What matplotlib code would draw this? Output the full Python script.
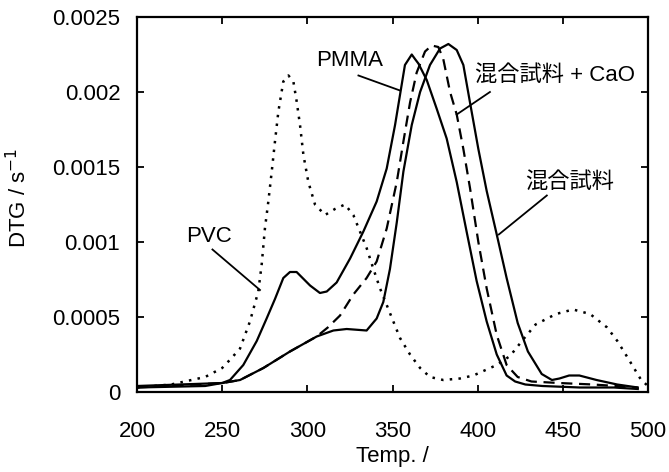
import numpy as np
import matplotlib.pyplot as plt

plt.rcParams['font.family'] = ['Liberation Sans', 'Noto Sans CJK JP', 'DejaVu Sans']

# DTG curves
pvc_t = [200, 220, 240, 250, 255, 260.5, 266.3, 271.2, 273.2, 275.1, 277.1, 279.1, 281, 283,
         285.9, 288.9, 291.8, 293.7, 295.7, 297.7, 300.6, 304.5, 310.4, 316.2, 322.1, 327,
         330.9, 334.8, 338.8, 342.7, 346.6, 350.5, 354.4, 360.3, 366.2, 372, 379.8, 389.6,
         397.5, 411.2, 419, 426, 434, 446, 456, 466, 476, 482, 488, 496, 500]
pvc_dtg = [0.00003, 0.00005, 0.0001, 0.00016, 0.00022, 0.00029, 0.00047, 0.00067, 0.00085,
           0.00109, 0.00127, 0.00147, 0.00167, 0.00187, 0.00207, 0.00211, 0.00207, 0.00194,
           0.00178, 0.00158, 0.0014, 0.00125, 0.00118, 0.00122, 0.00125, 0.00118, 0.00107,
           0.00096, 0.00082, 0.00069, 0.00058, 0.00047, 0.00036, 0.00025, 0.00016, 0.0001,
           0.00008, 0.00009, 0.00011, 0.00018, 0.00024, 0.00034, 0.00045, 0.00052, 0.00055,
           0.00052, 0.00043, 0.00034, 0.00023, 0.00008, 0.00004]

pmma_t = [200, 240, 250, 254.6, 262.4, 270.3, 276.1, 281, 285.9, 289.8, 293.7, 301.6, 307.4,
          311.4, 317.2, 325.1, 332.9, 340.7, 346.6, 351.5, 354.4, 357.3, 361.3, 363.2, 365.2,
          370.1, 375.9, 381.8, 387.7, 393.5, 399.4, 405.3, 411.2, 417, 422, 428, 438, 460,
          480, 494]
pmma_dtg = [0.00003, 0.00004, 0.00006, 0.00008, 0.00018, 0.00034, 0.00049, 0.00062, 0.00076,
            0.0008, 0.0008, 0.00071, 0.00066, 0.00067, 0.00073, 0.00089, 0.00107, 0.00127,
            0.00149, 0.00178, 0.00198, 0.00218, 0.00225, 0.00222, 0.00219, 0.00208, 0.00189,
            0.00169, 0.0014, 0.00107, 0.00074, 0.00047, 0.00025, 0.00011, 0.00007, 0.00005,
            0.00004, 0.00003, 0.00003, 0.00002]

mix_t = [200, 250.3, 260.5, 274.2, 289.8, 305.5, 315.3, 323.1, 334.8, 340.7, 344.6, 348.5,
         352.5, 356.4, 361.3, 366.2, 372, 377.9, 382.8, 387.7, 391.6, 395.5, 400.4, 405.3,
         411.2, 417, 423.5, 429.5, 437.6, 443.6, 448, 453.7, 459.7, 469.8, 481.9, 494]
mix_dtg = [0.00004, 0.00006, 0.00008, 0.00016, 0.00027, 0.00037, 0.00041, 0.00042, 0.00041,
           0.00049, 0.0006, 0.00082, 0.00113, 0.00147, 0.00178, 0.002, 0.00218, 0.00229,
           0.00232, 0.00228, 0.00218, 0.00193, 0.00162, 0.00134, 0.00105, 0.00076, 0.00046,
           0.00027, 0.00012, 0.00008, 0.00009, 0.00011, 0.00011, 0.00008, 0.00005, 0.00003]

cao_t = [200, 250.3, 260.5, 274.2, 289.8, 305.5, 312, 319.2, 327, 334.8, 340.7, 346.6, 352.5,
         356.4, 360.3, 364.2, 369.1, 373, 376.9, 379.8, 383.8, 387.7, 391.6, 395.5, 400.4,
         405.3, 411.2, 417, 423.5, 431.6, 447.6, 467.8, 494]
cao_dtg = [0.00003, 0.00006, 0.00008, 0.00016, 0.00027, 0.00037, 0.00043, 0.00051, 0.00065,
           0.00076, 0.00087, 0.00109, 0.0014, 0.00167, 0.00193, 0.00213, 0.00227, 0.00231,
           0.0023, 0.00222, 0.002, 0.00185, 0.00162, 0.00136, 0.001, 0.00069, 0.00038,
           0.00018, 0.0001, 0.00007, 0.00006, 0.00005, 0.00003]

fig = plt.figure(figsize=(6.69, 4.72), dpi=100)
ax = fig.add_axes([137 / 669, 1 - 392 / 472, 511 / 669, 375 / 472])

ax.plot(pvc_t, pvc_dtg, color='black', lw=1.8, ls=(0, (1, 2.5)))
ax.plot(pmma_t, pmma_dtg, color='black', lw=1.6)
ax.plot(mix_t, mix_dtg, color='black', lw=1.6)
ax.plot(cao_t, cao_dtg, color='black', lw=1.6, ls=(0, (5, 3)))

fs = 16
ax.text(325.1, 0.00221, 'PMMA', fontsize=fs, ha='center', va='center')
ax.plot([330, 354.4], [0.00211, 0.00201], color='black', lw=1.3)
ax.text(445.6, 0.00211, '混合試料 + CaO', fontsize=fs, ha='center', va='center')
ax.plot([407.2, 387.7], [0.002, 0.00185], color='black', lw=1.3)
ax.text(453.7, 0.0014, '混合試料', fontsize=fs, ha='center', va='center')
ax.plot([440.6, 412.4], [0.00131, 0.00105], color='black', lw=1.3)
ax.text(242.3, 0.00104, 'PVC', fontsize=fs, ha='center', va='center')
ax.plot([244.3, 272.2], [0.00095, 0.00068], color='black', lw=1.3)

ax.set_xlim(200, 500)
ax.set_ylim(0, 0.0025)
ax.set_xticks([200, 250, 300, 350, 400, 450, 500])
ax.set_yticks([0, 0.0005, 0.001, 0.0015, 0.002, 0.0025])
ax.set_yticklabels(['0', '0.0005', '0.001', '0.0015', '0.002', '0.0025'])
ax.tick_params(direction='in', top=True, right=True, length=5, width=1.3, labelsize=fs)
ax.tick_params(axis='x', pad=21)
ax.tick_params(axis='y', pad=12)
for s in ax.spines.values():
    s.set_linewidth(1.6)

ax.set_xlabel('Temp. /', fontsize=fs, va='center')
ax.xaxis.set_label_coords(0.5, -0.173)
ax.set_ylabel('DTG / s$^{-1}$', fontsize=fs, va='center')
ax.yaxis.set_label_coords(-0.231, 0.517)

fig.savefig('out.png', dpi=100)
